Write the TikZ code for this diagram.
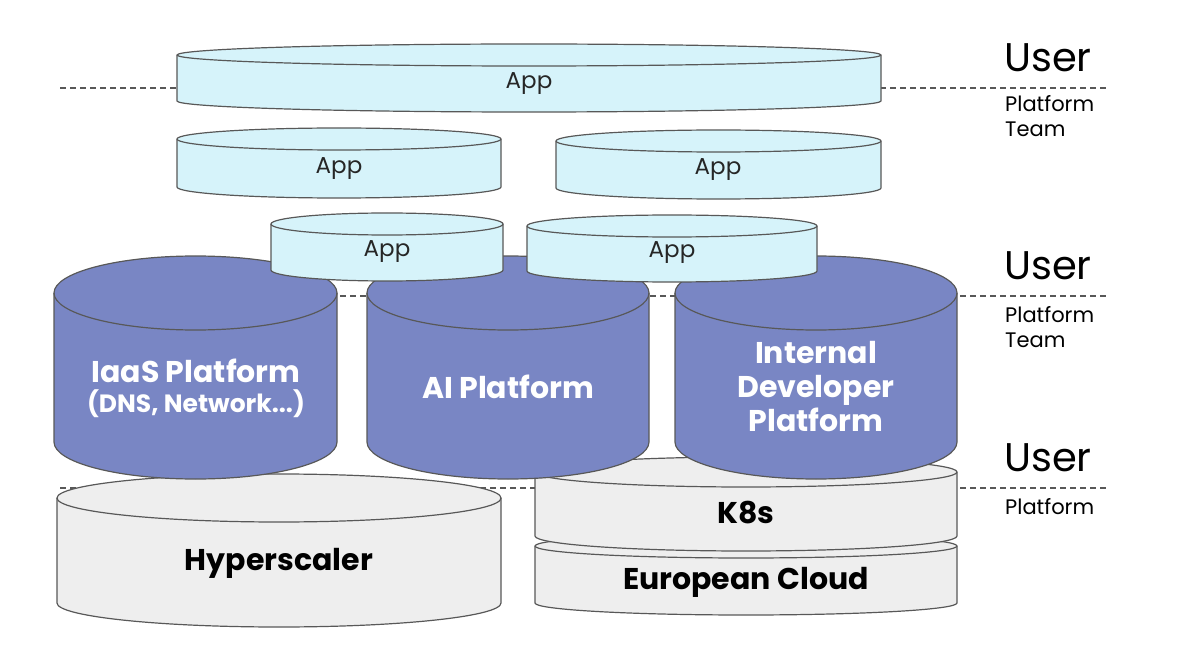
\documentclass[tikz,border=0pt]{standalone}
\usepackage{fontspec}
\setmainfont{Poppins}

\definecolor{appfill}{RGB}{214,243,250}
\definecolor{platfill}{RGB}{121,134,196}
\definecolor{basefill}{RGB}{238,238,238}
\definecolor{rim}{RGB}{88,88,88}

\tikzset{
  app/.style={fill=appfill, draw=rim, line width=1.2pt},
  plat/.style={fill=platfill, draw=rim, line width=1.2pt},
  base/.style={fill=basefill, draw=rim, line width=1.2pt},
  applabel/.style={font=\fontsize{23}{26}\selectfont, text=black!85},
  platlabel/.style={font=\bfseries\fontsize{30}{34}\selectfont, text=white, align=center},
  baselabel/.style={font=\bfseries\fontsize{30}{34}\selectfont, text=black},
  userlabel/.style={font=\fontsize{40}{44}\selectfont, anchor=west, inner sep=0pt},
  teamlabel/.style={font=\fontsize{21}{25}\selectfont, anchor=west, align=left, inner sep=0pt},
  divider/.style={draw=rim, line width=1.2pt, dash pattern=on 6pt off 4pt}
}

% drum: style, left x, right x, top centre y, bottom centre y, y radius
\newcommand{\drum}[6]{%
  \pgfmathsetmacro\drumrx{(#3-#2)/2}
  \filldraw[#1] (#2,#4) -- (#2,#5) arc[start angle=180, end angle=0, x radius=\drumrx, y radius=#6]
    -- (#3,#4) arc[start angle=0, end angle=-180, x radius=\drumrx, y radius=#6] -- cycle;
  \draw[#1, fill=none] (#2,#4) arc[start angle=180, end angle=0, x radius=\drumrx, y radius=#6];
}

\begin{document}
\begin{tikzpicture}[x=1pt, y=-1pt]
  \useasboundingbox[fill=white] (0,0) rectangle (1192,671);

  % role dividers
  \coordinate (topL) at (60,88);   \coordinate (topR) at (1108,88);
  \coordinate (midL) at (60,296);  \coordinate (midR) at (1108,296);
  \coordinate (lowL) at (60,488);  \coordinate (lowR) at (1108,488);
  \draw[divider] (topL) -- (topR);
  \draw[divider] (midL) -- (midR);
  \draw[divider] (lowL) -- (lowR);

  \node[userlabel] (user1) at (1004,58) {User};
  \node[teamlabel] (team1) at (1005,116) {Platform\\Team};
  \node[userlabel] (user2) at (1004,266) {User};
  \node[teamlabel] (team2) at (1005,327) {Platform\\Team};
  \node[userlabel] (user3) at (1004,458) {User};
  \node[teamlabel] (team3) at (1005,507) {Platform};

  % infrastructure
  \drum{base}{57}{501}{498}{603}{24}
  \node[baselabel] (hyper) at (279,563) {Hyperscaler};
  \drum{base}{535}{957}{546}{603}{12}
  \node[baselabel] (euro) at (746,582) {European Cloud};
  \drum{base}{535}{957}{472}{536}{15}
  \node[baselabel] (k8s) at (746,513) {K8s};

  % platforms
  \drum{plat}{54}{337}{293}{442}{37}
  \node[platlabel] (iaas) at (196,388) {IaaS Platform\\[-4pt]{\fontsize{25}{30}\selectfont(DNS, Network...)}};
  \drum{plat}{367}{649}{293}{442}{37}
  \node[platlabel] (ai) at (508,387) {AI Platform};
  \drum{plat}{675}{957}{293}{442}{37}
  \node[platlabel] (idp) at (816,387) {Internal\\Developer\\Platform};

  % apps
  \drum{app}{271}{503}{224}{270}{11}
  \node[applabel] (app5) at (387,252) {App};
  \drum{app}{527}{817}{226}{271}{11}
  \node[applabel] (app6) at (672,253) {App};
  \drum{app}{177}{501}{139}{187}{11}
  \node[applabel] (app2) at (339,169) {App};
  \drum{app}{556}{881}{141}{188}{11}
  \node[applabel] (app3) at (718,170) {App};
  \drum{app}{177}{881}{55}{101}{11}
  \node[applabel] (app1) at (529,84) {App};
\end{tikzpicture}
\end{document}
